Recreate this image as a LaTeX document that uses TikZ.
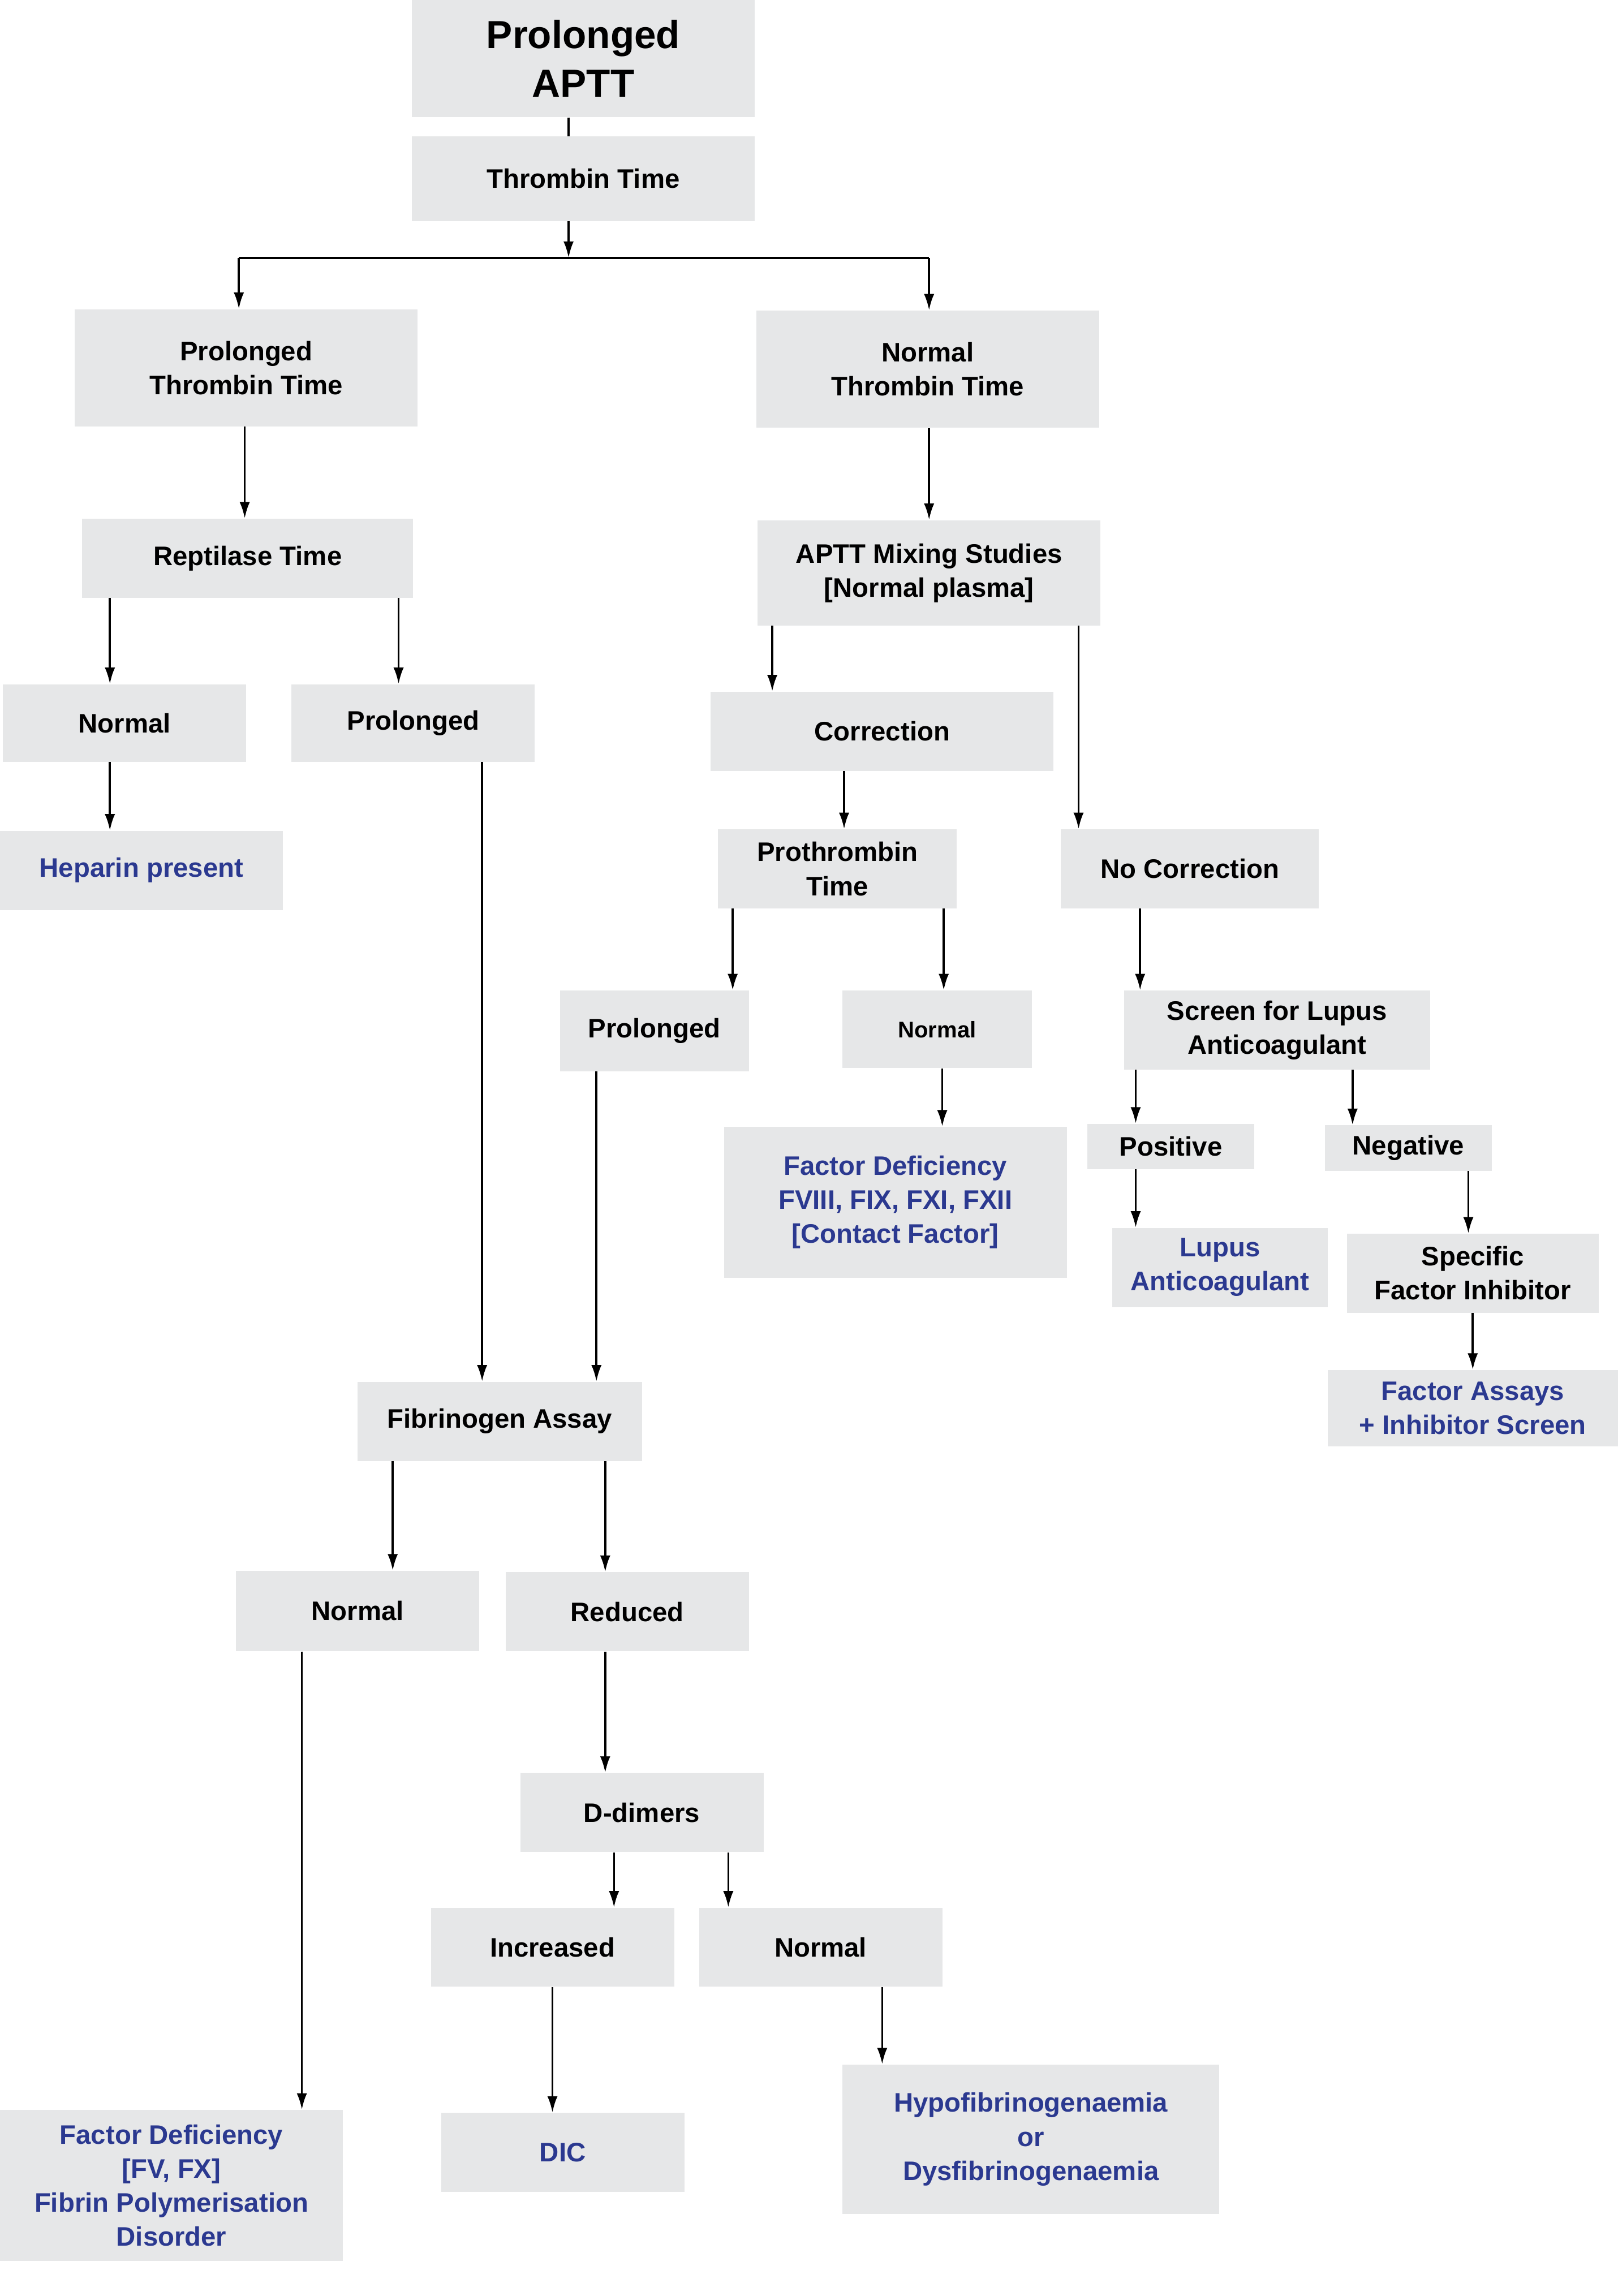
\documentclass[tikz,border=0pt]{standalone}
\usepackage{fontspec}
\setmainfont{Liberation Sans}
\usetikzlibrary{arrows.meta}
\definecolor{boxgray}{HTML}{E6E7E8}
\definecolor{resblue}{HTML}{2B3990}
\tikzset{
  bx/.style={fill=boxgray,inner sep=0pt,align=center,font=\fontsize{26}{33}\selectfont\bfseries,text=black},
  res/.style={bx,text=resblue},
  title/.style={bx,font=\fontsize{38}{47}\selectfont\bfseries},
  conn/.style={line width=2pt,-{Latex[length=16pt,width=10pt]}},
  plain/.style={line width=2pt}
}
\newcommand{\mybox}[7]{%
  \node[#7,minimum width={(#4-#2)*0.05cm},minimum height={(#5-#3)*0.05cm}] (#1) at ({(#2+#4)/2},{(#3+#5)/2}) {#6};}
\newcommand{\va}[3]{\draw[conn] (#1.south -| #3,0) -- (#2.north -| #3,0);}
\begin{document}
\begin{tikzpicture}[x=0.05cm,y=-0.05cm]
\useasboundingbox (0,0) rectangle (1104,1567);
\mybox{aptt}{281}{0}{515}{80}{Prolonged\\APTT}{title}
\mybox{tt}{281}{93}{515}{151}{Thrombin Time}{bx}
\mybox{ptt}{51}{211}{285}{291}{Prolonged\\Thrombin Time}{bx}
\mybox{ntt}{516}{212}{750}{292}{Normal\\Thrombin Time}{bx}
\mybox{rep}{56}{354}{282}{408}{Reptilase Time}{bx}
\mybox{mix}{517}{355}{751}{427}{APTT Mixing Studies\\{[Normal plasma]}}{bx}
\mybox{rn}{2}{467}{168}{520}{Normal}{bx}
\mybox{rp}{199}{467}{365}{520}{Prolonged}{bx}
\mybox{cor}{485}{472}{719}{526}{Correction}{bx}
\mybox{hep}{0}{567}{193}{621}{Heparin present}{res}
\mybox{pt}{490}{566}{653}{620}{Prothrombin\\Time}{bx}
\mybox{nocor}{724}{566}{900}{620}{No Correction}{bx}
\mybox{ptp}{382}{676}{511}{731}{Prolonged}{bx}
\mybox{ptn}{575}{676}{704}{729}{\fontsize{22}{28}\selectfont Normal}{bx}
\mybox{lup}{767}{676}{976}{730}{Screen for Lupus\\Anticoagulant}{bx}
\mybox{fd}{494}{769}{728}{872}{Factor Deficiency\\FVIII, FIX, FXI, FXII\\{[Contact Factor]}}{res}
\mybox{pos}{742}{767}{856}{798}{Positive}{bx}
\mybox{neg}{904}{768}{1018}{799}{Negative}{bx}
\mybox{la}{759}{838}{906}{892}{Lupus\\Anticoagulant}{res}
\mybox{sfi}{919}{842}{1091}{896}{Specific\\Factor Inhibitor}{bx}
\mybox{fa}{906}{935}{1104}{987}{Factor Assays\\+ Inhibitor Screen}{res}
\mybox{fib}{244}{943}{438}{997}{Fibrinogen Assay}{bx}
\mybox{fn}{161}{1072}{327}{1127}{Normal}{bx}
\mybox{fr}{345}{1073}{511}{1127}{Reduced}{bx}
\mybox{dd}{355}{1210}{521}{1264}{D-dimers}{bx}
\mybox{inc}{294}{1302}{460}{1356}{Increased}{bx}
\mybox{dn}{477}{1302}{643}{1356}{Normal}{bx}
\mybox{fdv}{0}{1440}{234}{1543}{Factor Deficiency\\{[FV, FX]}\\Fibrin Polymerisation\\Disorder}{res}
\mybox{dic}{301}{1442}{467}{1496}{DIC}{res}
\mybox{hypo}{575}{1409}{832}{1511}{Hypofibrinogenaemia\\or\\Dysfibrinogenaemia}{res}
\coordinate (split) at (388,176);
\draw[plain] (aptt.south -| 388,0) -- (tt.north -| 388,0);
\draw[conn] (tt.south -| 388,0) -- (split);
\draw[plain] (163,176) -- (634,176);
\draw[conn] (163,176) -- (ptt.north -| 163,0);
\draw[conn] (634,176) -- (ntt.north -| 634,0);
\va{ptt}{rep}{167}
\va{ntt}{mix}{634}
\va{rep}{rn}{75}
\va{rep}{rp}{272}
\va{mix}{cor}{527}
\va{mix}{nocor}{736}
\va{rn}{hep}{75}
\va{rp}{fib}{329}
\va{cor}{pt}{576}
\va{pt}{ptp}{500}
\va{pt}{ptn}{644}
\va{nocor}{lup}{778}
\va{ptp}{fib}{407}
\va{ptn}{fd}{643}
\va{lup}{pos}{775}
\va{lup}{neg}{923}
\va{pos}{la}{775}
\va{neg}{sfi}{1002}
\va{sfi}{fa}{1005}
\va{fib}{fn}{268}
\va{fib}{fr}{413}
\va{fn}{fdv}{206}
\va{fr}{dd}{413}
\va{dd}{inc}{419}
\va{dd}{dn}{497}
\va{inc}{dic}{377}
\va{dn}{hypo}{602}
\end{tikzpicture}
\end{document}
